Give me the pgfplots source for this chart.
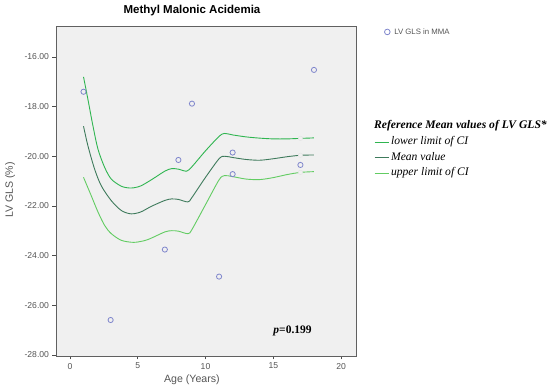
\documentclass[border=0pt]{standalone}
\usepackage{pgfplots}
\pgfplotsset{compat=1.18}
\usepackage{fontspec}
\setmainfont{Liberation Sans}
\newfontfamily\timesfont{Liberation Serif}
\definecolor{bgc}{HTML}{F0F0F0}
\definecolor{ptc}{HTML}{7F86CC}
\definecolor{lowc}{HTML}{2FB550}
\definecolor{meanc}{HTML}{3E7A5C}
\definecolor{upc}{HTML}{62CC62}
\definecolor{txc}{HTML}{555555}
\begin{document}
\begin{tikzpicture}
\useasboundingbox (-56pt,-34pt) rectangle (494pt,356pt);
\begin{axis}[
  at={(0,0)}, anchor=south west,
  scale only axis, width=300pt, height=330pt,
  xmin=-1.03, xmax=21.1, ymin=-28.05, ymax=-14.75,
  axis background/.style={fill=bgc},
  axis line style={draw=gray!75!black, line width=0.8pt},
  xtick={0,5,10,15,20}, ytick={-28,-26,-24,-22,-20,-18,-16},
  tick align=outside, tick pos=left,
  major tick length=3.5pt,
  tick style={draw=gray!60!black, line width=0.5pt},
  /pgf/number format/assume math mode=true,
  yticklabel style={/pgf/number format/.cd, fixed, fixed zerofill, precision=2},
  ticklabel style={font=\fontsize{8.6}{10}\selectfont, text=txc},
  xlabel={Age (Years)}, ylabel={LV GLS (\%)},
  label style={font=\fontsize{10.6}{12}\selectfont, text=txc},
  xlabel style={at={(axis description cs:0.453,-0.073)}, anchor=center},
  ylabel style={at={(axis description cs:-0.153,0.503)}, anchor=center},
  legend style={at={(axis description cs:1.06,0.672)}, anchor=north west, draw=none, fill=none,
    font=\timesfont\itshape\fontsize{11.6}{13}\selectfont, row sep=2pt, inner sep=0pt},
  legend cell align=left,
  legend image code/.code={\draw[#1] (0pt,-1pt) -- (14pt,-1pt);},
]
\addplot[lowc, line width=0.9pt, smooth, tension=0.5] coordinates {
(1,-16.8) (1.33,-17.72) (1.7,-18.79) (2.07,-19.72) (2.56,-20.45) (3.05,-20.92) (3.8,-21.21) (4.5,-21.28) (5.2,-21.2) (6,-20.95) (7,-20.6) (7.5,-20.5) (8,-20.52) (8.6,-20.6) (9,-20.42) (10,-19.78) (11,-19.2) (11.4,-19.08) (12,-19.14) (13,-19.22) (14,-19.27) (15,-19.3) (16,-19.3) (17,-19.28) (18,-19.26)};
\addlegendentry{lower limit of CI}
\addplot[meanc, line width=0.9pt, smooth, tension=0.5] coordinates {
(1,-18.79) (1.33,-19.59) (1.82,-20.52) (2.31,-21.19) (3.05,-21.79) (3.8,-22.19) (4.5,-22.32) (5.2,-22.25) (6,-22.02) (7,-21.78) (7.5,-21.72) (8,-21.74) (8.7,-21.84) (9,-21.66) (10,-20.85) (11,-20.1) (11.4,-20.0) (12,-20.05) (13,-20.13) (14,-20.16) (15,-20.1) (16,-20.02) (17,-19.96) (18,-19.95)};
\addlegendentry{Mean value}
\addplot[upc, line width=0.9pt, smooth, tension=0.5] coordinates {
(1,-20.85) (1.57,-21.59) (2.07,-22.25) (2.56,-22.79) (3.05,-23.12) (3.8,-23.39) (4.7,-23.47) (5.5,-23.4) (6,-23.3) (7,-23.05) (7.5,-23.0) (8,-23.02) (8.7,-23.12) (9,-22.95) (10,-21.95) (11,-20.95) (11.4,-20.78) (12,-20.82) (13,-20.92) (14,-20.94) (15,-20.86) (16,-20.74) (17,-20.65) (18,-20.62)};
\addlegendentry{upper limit of CI}
\addplot[only marks, mark=*, mark size=2.2pt, draw=gray!22, fill=gray!12, forget plot] coordinates {
(17,-19.28) (17,-19.96) (17,-20.65)};
\addplot[only marks, mark=o, mark size=2.6pt, draw=ptc, line width=0.8pt, forget plot] coordinates {
(1,-17.4) (3,-26.6) (7,-23.76) (8,-20.15) (9,-17.88) (11,-24.85) (12,-19.85) (12,-20.72) (17,-20.35) (18,-16.52)};
\node[font=\timesfont\bfseries\fontsize{11.5}{13}\selectfont, anchor=west] at (axis cs:14.75,-27.05) {\textit{p}=0.199};
\end{axis}
\begin{axis}[
  at={(0,0)}, anchor=south west,
  scale only axis, width=300pt, height=330pt,
  xmin=0, xmax=1, ymin=0, ymax=1, hide axis,
  legend style={at={(axis description cs:1.093,0.982)}, anchor=west, draw=none, fill=none,
    font=\fontsize{7.8}{9}\selectfont, text=txc, inner sep=0pt},
  legend image code/.code={\path[draw=none, fill=none] (0pt,-0.1pt) rectangle (8pt,0.1pt); \draw[ptc, line width=0.8pt, fill=none] (3pt,0pt) circle (2.8pt);},
]
\addlegendimage{ptc}
\addlegendentry{LV GLS in MMA}
\end{axis}
\node[font=\bfseries\fontsize{11.5}{13}\selectfont, anchor=center, inner sep=0pt] at (136pt,345pt) {Methyl Malonic Acidemia};
\node[font=\timesfont\bfseries\itshape\fontsize{11.6}{13}\selectfont, anchor=west, inner sep=0pt] at (318pt,230pt) {Reference Mean values of LV GLS*};
\end{tikzpicture}
\end{document}
